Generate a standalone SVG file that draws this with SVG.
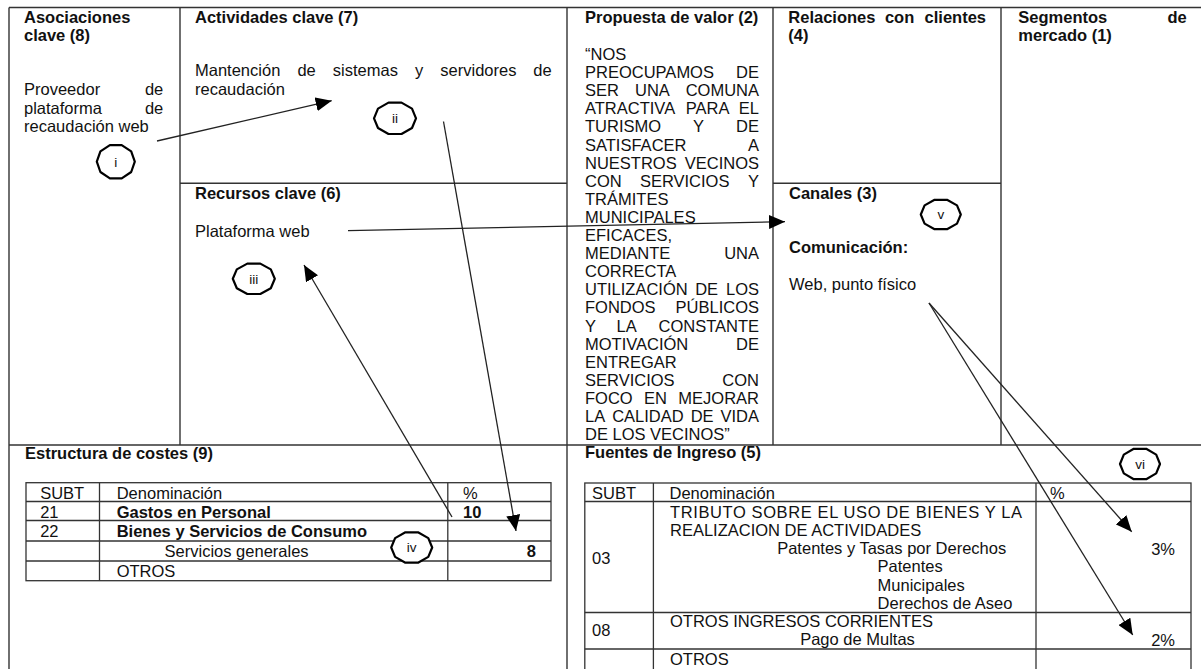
<svg xmlns="http://www.w3.org/2000/svg" width="1201" height="669" viewBox="0 0 1201 669">
<style>
text{font-family:"Liberation Sans",Arial,sans-serif;fill:#111}
.b{font-size:16.5px;font-weight:bold}
.r{font-size:16.5px}
.e{text-anchor:end}
.lbl{font-size:13.5px;text-anchor:middle}
.grid line{stroke:#333;stroke-width:1.4}
.tbl line,.tbl rect{stroke:#333;stroke-width:1.3;fill:none}
.ring{fill:#fff;stroke:#000;stroke-width:2.2;stroke-linejoin:round}
.con line{stroke:#222;stroke-width:1.3;marker-end:url(#ah)}
</style>
<defs>
<marker id="ah" markerUnits="userSpaceOnUse" markerWidth="16" markerHeight="14" viewBox="0 0 16 14" refX="16" refY="7" orient="auto">
<path d="M0,0 L16,7 L0,14 z" fill="#000"/>
</marker>
</defs>
<rect width="1201" height="669" fill="#fff"/>

<g id="grid" class="grid">
<line x1="9" y1="7.5" x2="1201" y2="7.5"/>
<line x1="9" y1="7.5" x2="9" y2="669"/>
<line x1="180" y1="7.5" x2="180" y2="445"/>
<line x1="567" y1="7.5" x2="567" y2="669"/>
<line x1="773" y1="7.5" x2="773" y2="445"/>
<line x1="1001" y1="7.5" x2="1001" y2="445"/>
<line x1="180" y1="183.3" x2="567" y2="183.3"/>
<line x1="773" y1="183.3" x2="1001" y2="183.3"/>
<line x1="9" y1="445" x2="1201" y2="445"/>
</g>

<g id="asociaciones">
<text class="b" x="24" y="23">Asociaciones</text>
<text class="b" x="24" y="41">clave (8)</text>
<text class="r" x="24" y="95">Proveedor</text><text class="r e" x="163.3" y="95">de</text>
<text class="r" x="24" y="113.5">plataforma</text><text class="r e" x="163.3" y="113.5">de</text>
<text class="r" x="24" y="132">recaudación web</text>
</g>

<g id="actividades">
<text class="b" x="195" y="23">Actividades clave (7)</text>
<text class="r" x="195" y="76">Mantención</text>
<text class="r" x="297.4" y="76">de</text>
<text class="r" x="332.8" y="76">sistemas</text>
<text class="r" x="415" y="76">y</text>
<text class="r" x="440.3" y="76">servidores</text>
<text class="r e" x="551.7" y="76">de</text>
<text class="r" x="195" y="95">recaudación</text>
</g>

<g id="recursos">
<text class="b" x="195" y="199">Recursos clave (6)</text>
<text class="r" x="195" y="236.7">Plataforma web</text>
</g>

<g id="propuesta">
<text class="b" x="585" y="23">Propuesta de valor (2)</text>
<text class="r" x="585" y="60">“NOS</text>
<text class="r" x="585" y="78.1">PREOCUPAMOS</text><text class="r e" x="759" y="78.1">DE</text>
<text class="r" x="585" y="96.2">SER</text><text class="r" x="635" y="96.2">UNA</text><text class="r e" x="759" y="96.2">COMUNA</text>
<text class="r" x="585" y="114.3">ATRACTIVA</text><text class="r" x="685.8" y="114.3">PARA</text><text class="r e" x="759" y="114.3">EL</text>
<text class="r" x="585" y="132.4">TURISMO</text><text class="r" x="693.1" y="132.4">Y</text><text class="r e" x="759" y="132.4">DE</text>
<text class="r" x="585" y="150.5">SATISFACER</text><text class="r e" x="759" y="150.5">A</text>
<text class="r" x="585" y="168.6">NUESTROS</text><text class="r e" x="759" y="168.6">VECINOS</text>
<text class="r" x="585" y="186.7">CON</text><text class="r" x="639.9" y="186.7">SERVICIOS</text><text class="r e" x="759" y="186.7">Y</text>
<text class="r" x="585" y="204.8">TRÁMITES</text>
<text class="r" x="585" y="222.9">MUNICIPALES</text>
<text class="r" x="585" y="241">EFICACES,</text>
<text class="r" x="585" y="259.1">MEDIANTE</text><text class="r e" x="759" y="259.1">UNA</text>
<text class="r" x="585" y="277.2">CORRECTA</text>
<text class="r" x="585" y="295.3">UTILIZACIÓN</text><text class="r" x="695.2" y="295.3">DE</text><text class="r e" x="759" y="295.3">LOS</text>
<text class="r" x="585" y="313.4">FONDOS</text><text class="r e" x="759" y="313.4">PÚBLICOS</text>
<text class="r" x="585" y="331.5">Y</text><text class="r" x="616.5" y="331.5">LA</text><text class="r e" x="759" y="331.5">CONSTANTE</text>
<text class="r" x="585" y="349.6">MOTIVACIÓN</text><text class="r e" x="759" y="349.6">DE</text>
<text class="r" x="585" y="367.7">ENTREGAR</text>
<text class="r" x="585" y="385.8">SERVICIOS</text><text class="r e" x="759" y="385.8">CON</text>
<text class="r" x="585" y="403.9">FOCO</text><text class="r" x="644" y="403.9">EN</text><text class="r e" x="759" y="403.9">MEJORAR</text>
<text class="r" x="585" y="422">LA</text><text class="r" x="612.2" y="422">CALIDAD</text><text class="r" x="690.7" y="422">DE</text><text class="r e" x="759" y="422">VIDA</text>
<text class="r" x="585" y="440.1">DE LOS VECINOS”</text>
</g>

<g id="relaciones">
<text class="b" x="788.3" y="23">Relaciones</text><text class="b" x="884.9" y="23">con</text><text class="b e" x="986" y="23">clientes</text>
<text class="b" x="788.3" y="41">(4)</text>
</g>

<g id="canales">
<text class="b" x="789" y="199">Canales (3)</text>
<text class="b" x="789" y="253.3">Comunicación:</text>
<text class="r" x="789" y="290">Web, punto físico</text>
</g>

<g id="segmentos">
<text class="b" x="1018.3" y="23">Segmentos</text><text class="b e" x="1186.7" y="23">de</text>
<text class="b" x="1018.3" y="41">mercado (1)</text>
</g>

<g id="costes">
<text class="b" x="25" y="459">Estructura de costes (9)</text>
<g class="tbl">
<rect x="26" y="482.7" width="525" height="98"/>
<line x1="26" y1="501.5" x2="551" y2="501.5"/>
<line x1="26" y1="520.5" x2="551" y2="520.5"/>
<line x1="26" y1="541" x2="551" y2="541"/>
<line x1="26" y1="561" x2="551" y2="561"/>
<line x1="99.5" y1="482.7" x2="99.5" y2="580.7"/>
<line x1="447.8" y1="482.7" x2="447.8" y2="580.7"/>
</g>
<text class="r" x="40.2" y="498.5">SUBT</text>
<text class="r" x="116.7" y="498.5">Denominación</text>
<text class="r" x="463" y="498.5">%</text>
<text class="r" x="40.2" y="518">21</text>
<text class="b" x="116.7" y="518">Gastos en Personal</text>
<text class="b" x="463" y="518">10</text>
<text class="r" x="40.2" y="537.3">22</text>
<text class="b" x="116.7" y="537.3">Bienes y Servicios de Consumo</text>
<text class="r" x="164.6" y="557">Servicios generales</text>
<text class="b e" x="536" y="557">8</text>
<text class="r" x="116.7" y="576.5">OTROS</text>
</g>

<g id="fuentes">
<text class="b" x="585" y="458">Fuentes de Ingreso (5)</text>
<g class="tbl">
<rect x="584.8" y="483" width="606.2" height="200"/>
<line x1="584.8" y1="501.5" x2="1191" y2="501.5"/>
<line x1="584.8" y1="612.5" x2="1191" y2="612.5"/>
<line x1="584.8" y1="649" x2="1191" y2="649"/>
<line x1="653.4" y1="483" x2="653.4" y2="683"/>
<line x1="1036" y1="483" x2="1036" y2="683"/>
</g>
<text class="r" x="592" y="498.5">SUBT</text>
<text class="r" x="669.5" y="498.5">Denominación</text>
<text class="r" x="1050" y="498.5">%</text>
<text class="r" x="670" y="517.5" textLength="352" lengthAdjust="spacing">TRIBUTO SOBRE EL USO DE BIENES Y LA</text>
<text class="r" x="670" y="535.8">REALIZACION DE ACTIVIDADES</text>
<text class="r" x="777.2" y="554">Patentes y Tasas por Derechos</text>
<text class="r e" x="1175" y="554.5">3%</text>
<text class="r" x="592" y="564">03</text>
<text class="r" x="877.6" y="572.3">Patentes</text>
<text class="r" x="877.6" y="590.6">Municipales</text>
<text class="r" x="877.6" y="608.9">Derechos de Aseo</text>
<text class="r" x="670" y="627">OTROS INGRESOS CORRIENTES</text>
<text class="r" x="592" y="636">08</text>
<text class="r" x="800.2" y="645">Pago de Multas</text>
<text class="r e" x="1175" y="646">2%</text>
<text class="r" x="670" y="664.5">OTROS</text>
</g>

<g id="connectors" class="con">
<line x1="157" y1="141" x2="331.7" y2="100.7"/>
<line x1="443.5" y1="121.5" x2="516" y2="531"/>
<line x1="452" y1="517" x2="304" y2="265"/>
<line x1="348" y1="230.7" x2="785" y2="221.7"/>
<line x1="929" y1="303" x2="1131.7" y2="531.7"/>
<line x1="929" y1="303" x2="1132.7" y2="635"/>
</g>

<g id="marker-i"><polygon class="ring" points="134.8,161.7 131.2,151.4 121.7,145.1 109.9,145.1 100.4,151.4 96.8,161.7 100.4,172 109.9,178.3 121.7,178.3 131.2,172"/><text class="lbl" x="115.8" y="166.5">i</text></g>
<g id="marker-ii"><polygon class="ring" points="416,118.3 412,108.6 401.5,102.6 388.5,102.6 378,108.6 374,118.3 378,128 388.5,134 401.5,134 412,128"/><text class="lbl" x="395" y="123.1">ii</text></g>
<g id="marker-iii"><polygon class="ring" points="274.8,278.8 270.8,269.4 260.3,263.6 247.3,263.6 236.8,269.4 232.8,278.8 236.8,288.2 247.3,294 260.3,294 270.8,288.2"/><text class="lbl" x="253.8" y="283.6">iii</text></g>
<g id="marker-iv"><polygon class="ring" points="432.2,547.5 428.3,538.1 418,532.3 405.4,532.3 395.1,538.1 391.2,547.5 395.1,556.9 405.4,562.7 418,562.7 428.3,556.9"/><text class="lbl" x="411.7" y="552.3">iv</text></g>
<g id="marker-v"><polygon class="ring" points="960.8,214.5 957,205.4 947,199.8 934.6,199.8 924.6,205.4 920.8,214.5 924.6,223.6 934.6,229.2 947,229.2 957,223.6"/><text class="lbl" x="940.8" y="219.3">v</text></g>
<g id="marker-vi"><polygon class="ring" points="1160,464 1156.2,454.6 1146.2,448.8 1133.8,448.8 1123.8,454.6 1120,464 1123.8,473.4 1133.8,479.2 1146.2,479.2 1156.2,473.4"/><text class="lbl" x="1140" y="468.8">vi</text></g>
</svg>
